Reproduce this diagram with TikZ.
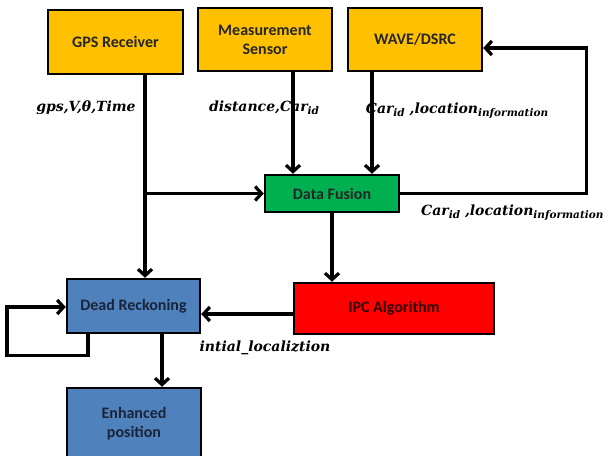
\documentclass[tikz,border=0pt]{standalone}
\usepackage{fontspec}
\setmainfont{Carlito}
\newfontfamily\labfont{DejaVu Serif}
\usetikzlibrary{arrows.meta}
\definecolor{gold}{HTML}{FFC000}
\definecolor{fusegreen}{HTML}{00B050}
\definecolor{drblue}{HTML}{4F81BD}
\definecolor{ipcred}{HTML}{FF0000}
\definecolor{navytext}{HTML}{1A2438}
\newcommand\lsub[1]{\raisebox{-0.4ex}{\fontsize{10.5}{10.5}\selectfont #1}}
\begin{document}
\begin{tikzpicture}[x=1pt,y=-1pt,
  box/.style={draw=black, line width=2.4pt, inner sep=0pt, align=center,
    font=\bfseries\fontsize{16}{19}\selectfont, text=black!85},
  arr/.style={line width=3.2pt, -{Straight Barb[length=6.5pt,width=14pt]}},
  lab/.style={inner sep=0pt, font=\labfont\bfseries\itshape\fontsize{14}{16}\selectfont}]
\useasboundingbox (0,0) rectangle (610,455);
% boxes
\node[box, fill=gold, minimum width=135pt, minimum height=64pt] (gps) at (115.5,42) {GPS Receiver};
\node[box, fill=gold, minimum width=134pt, minimum height=63pt] (meas) at (265,39.5) {Measurement\\Sensor};
\node[box, fill=gold, minimum width=134pt, minimum height=63pt] (wave) at (415,39.5) {WAVE/DSRC};
\node[box, fill=fusegreen, minimum width=134pt, minimum height=37pt] (df) at (332,193.5) {Data Fusion};
\node[box, fill=drblue, text=navytext, minimum width=133pt, minimum height=54pt] (dr) at (133.5,306) {Dead Reckoning};
\node[box, fill=ipcred, text=black!80!red, minimum width=200pt, minimum height=51pt] (ipc) at (394,308.5) {IPC Algorithm};
\node[box, fill=drblue, text=navytext, minimum width=134pt, minimum height=72pt] (enh) at (134,424) {Enhanced\\position};
% connectors
\coordinate (j1) at (145,193.5);
\draw[arr] ([xshift=29.5pt]gps.south) -- ([xshift=11.5pt]dr.north);
\draw[arr] (j1) -- (df.west);
\draw[arr] ([xshift=28pt]meas.south) -- ([xshift=-39pt]df.north);
\draw[arr] ([xshift=-43pt]wave.south) -- ([xshift=40pt]df.north);
\draw[arr] (df.east) -- ++(186,0) |- ([yshift=-8.5pt]wave.east);
\draw[arr] (df.south) -- (df.south |- ipc.north);
\draw[arr] ([yshift=-5.5pt]ipc.west) -- ([yshift=-5.5pt]ipc.west -| dr.east);
\draw[arr] ([xshift=-45.5pt]dr.south) -- ++(0,21) -- ++(-81,0) |- ([yshift=-1pt]dr.west);
\draw[arr] ([xshift=28.5pt]dr.south) -- ([xshift=28pt]enh.north);
% labels
\node[lab] (l1) at (86,108) {gps,V,θ,Time};
\node[lab] (l2) at (264,108) {distance,Car\lsub{id}};
\node[lab] (l3) at (457,111) {Car\lsub{id} ,location\lsub{information}};
\node[lab, anchor=west] (l4) at (421,213) {Car\lsub{id} ,location\lsub{information}};
\node[lab] (l5) at (265,348) {intial\_localiztion};
\end{tikzpicture}
\end{document}
